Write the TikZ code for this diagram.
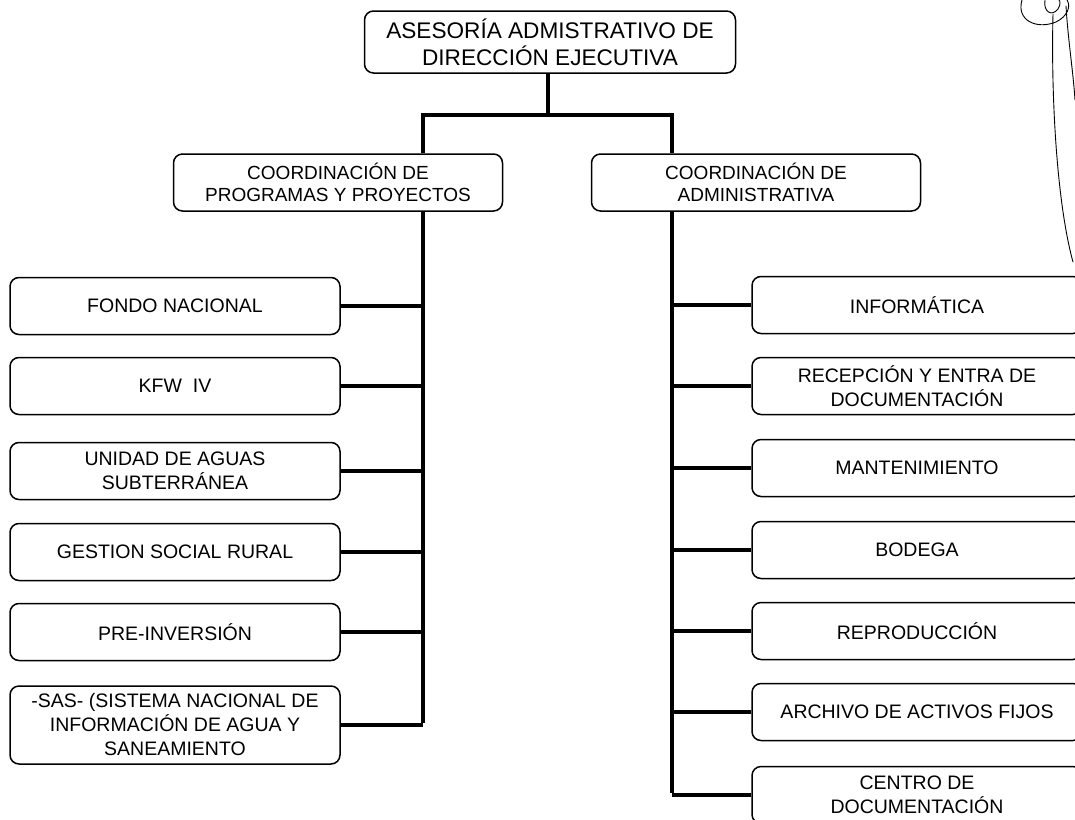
\documentclass[tikz,border=0pt]{standalone}
\usepackage{fontspec}
\setmainfont{Liberation Sans}
\begin{document}
\begin{tikzpicture}[x=1pt,y=-1pt,
  unit/.style={draw, line width=1.5pt, rounded corners=9pt, align=center,
    inner sep=0pt, minimum width=330pt, minimum height=57pt,
    font=\fontsize{19.5}{24}\selectfont},
  headbox/.style={unit, minimum width=371pt, minimum height=62pt,
    font=\fontsize{22.6}{27}\selectfont},
  midbox/.style={unit, minimum width=329pt, minimum height=57pt,
    font=\fontsize{19}{22.5}\selectfont},
  link/.style={line width=3.2pt},
  trunk/.style={line width=3.8pt},
  ink/.style={line width=0.9pt, line cap=round}]
\useasboundingbox (0,0) rectangle (1075,819);
\clip (0,0) rectangle (1075,819);
\fill[white] (0,0) rectangle (1075,819);

% top of the chart
\node[headbox] (top) at (550,42) {ASESORÍA ADMISTRATIVO DE\\DIRECCIÓN EJECUTIVA};

% the two coordinations
\node[midbox] (ml) at (338,182.5) {COORDINACIÓN DE\\PROGRAMAS Y PROYECTOS};
\node[midbox] (mr) at (756,182.5) {COORDINACIÓN DE\\ADMINISTRATIVA};

\coordinate (jl) at (423,115);
\coordinate (jr) at (672,115);

% left column
\node[unit] (l1) at (175,306) {FONDO NACIONAL};
\node[unit] (l2) at (175,386) {KFW\ \ IV};
\node[unit] (l3) at (175,471) {UNIDAD DE AGUAS\\SUBTERRÁNEA};
\node[unit] (l4) at (175,552) {GESTION SOCIAL RURAL};
\node[unit] (l5) at (175,632) {PRE-INVERSIÓN};
\node[unit, minimum height=78pt] (l6) at (175,725) {-SAS- (SISTEMA NACIONAL DE\\INFORMACIÓN DE AGUA Y\\SANEAMIENTO};

% right column
\node[unit] (r1) at (917,305) {INFORMÁTICA};
\node[unit] (r2) at (917,386) {RECEPCIÓN Y ENTRA DE\\DOCUMENTACIÓN};
\node[unit] (r3) at (917,468) {MANTENIMIENTO};
\node[unit] (r4) at (917,550) {BODEGA};
\node[unit] (r5) at (917,631) {REPRODUCCIÓN};
\node[unit] (r6) at (917,712) {ARCHIVO DE ACTIVOS FIJOS};
\node[unit] (r7) at (917,795) {CENTRO DE\\DOCUMENTACIÓN};

% connectors
\draw[trunk] ([xshift=-2pt]top.south) -- ([xshift=-2pt]top.south |- jl);
\draw[trunk, line cap=rect] (jl) -- (jr);
\draw[trunk] (jl) -- (jl |- ml.north);
\draw[trunk] (jr) -- (jr |- mr.north);
\draw[trunk] (ml.south -| jl) -- ([yshift=1.6pt]jl |- l6.east);
\draw[trunk] (mr.south -| jr) -- ([yshift=1.6pt]jr |- r7.west);
\foreach \b in {l1,l2,l3,l4,l5,l6}
  \draw[link] (\b.east) -- (\b.east -| jl);
\foreach \b in {r1,r2,r3,r4,r5,r6,r7}
  \draw[link] (\b.west) -- (\b.west -| jr);

% handwritten initials in the corner
\draw[ink] (1022,0) .. controls (1016,20) and (1036,30) .. (1056,22)
  .. controls (1068,16) and (1071,6) .. (1067,0);
\draw[ink] (1045,0) .. controls (1043,12) and (1052,17) .. (1058,9)
  .. controls (1061,4) and (1060,1) .. (1059,0);
\draw[ink] (1053,14) .. controls (1051,90) and (1056,200) .. (1073,262);
\draw[ink] (1066,6) .. controls (1068,40) and (1073,70) .. (1075,100);
\end{tikzpicture}
\end{document}
